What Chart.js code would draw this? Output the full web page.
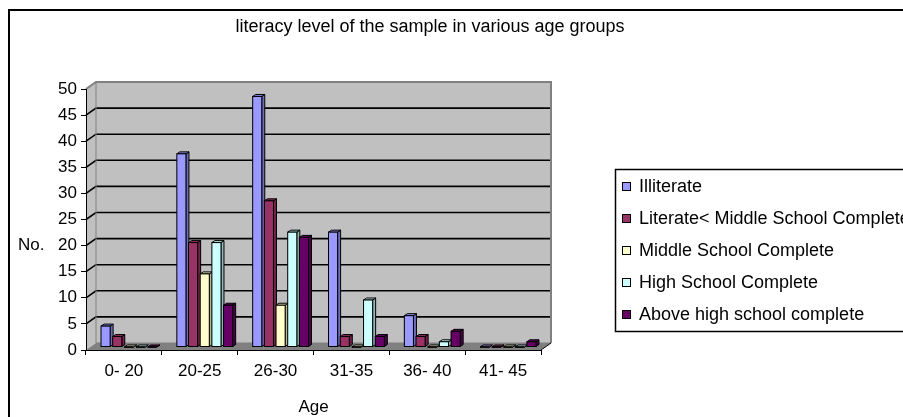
<!DOCTYPE html>
<html>
<head>
<meta charset="utf-8">
<title>literacy level of the sample in various age groups</title>
<script src="https://cdn.jsdelivr.net/npm/chart.js@4.4.1/dist/chart.umd.min.js"></script>
<style>
  html, body { margin: 0; padding: 0; background: #fff; }
  #wrap { width: 903px; height: 417px; position: relative; }
</style>
</head>
<body>
<div id="wrap"><canvas id="c" width="903" height="417"></canvas></div>
<script>
// ---- data ----
const ageGroups = ['0- 20', '20-25', '26-30', '31-35', '36- 40', '41- 45'];
const illiterate = [4, 37, 48, 22, 6, 0];
const literateBelowMiddle = [2, 20, 28, 2, 2, 0];
const middleSchoolComplete = [0, 14, 8, 0, 0, 0];
const highSchoolComplete = [0, 20, 22, 9, 1, 0];
const aboveHighSchool = [0, 8, 21, 2, 3, 1];
const seriesNames = [
  'Illiterate',
  'Literate< Middle School Complete',
  'Middle School Complete',
  'High School Complete',
  'Above high school complete'
];
const yMin = 0, yMax = 50, yStep = 5;
const chartTitle = 'literacy level of the sample in various age groups';
const yTitle = 'No.';
const xTitle = 'Age';

// ---- styling ----
const seriesColors = ['#9999FF', '#993366', '#FFFFCC', '#CCFFFF', '#660066'];
const FONT = 'Liberation Sans, Arial, sans-serif';
const WALL = { dx: 10, dy: -7 };      // depth of the walls/floor
const BAR_SHIFT = { dx: 5, dy: -3 };  // bars stand half way into the floor
const BAR_DEPTH = { dx: 3, dy: -2 };  // depth of each column

function shade(hex, f) {
  const n = parseInt(hex.slice(1), 16);
  const r = Math.round(((n >> 16) & 255) * f);
  const g = Math.round(((n >> 8) & 255) * f);
  const b = Math.round((n & 255) * f);
  return `rgb(${Math.min(255, r)},${Math.min(255, g)},${Math.min(255, b)})`;
}

// Walls, floor, gridlines, outer frame
const wallsPlugin = {
  id: 'walls',
  beforeDraw(chart) {
    const { ctx, chartArea: a, scales: { y } } = chart;
    const { dx, dy } = WALL;
    ctx.save();
    ctx.fillStyle = '#fff';
    ctx.fillRect(0, 0, chart.width, chart.height);

    // side wall
    ctx.fillStyle = '#c0c0c0';
    ctx.beginPath();
    ctx.moveTo(a.left, a.bottom);
    ctx.lineTo(a.left, a.top);
    ctx.lineTo(a.left + dx, a.top + dy);
    ctx.lineTo(a.left + dx, a.bottom + dy);
    ctx.closePath();
    ctx.fill();
    // back wall
    ctx.fillRect(a.left + dx, a.top + dy, a.right - a.left, a.bottom - a.top);
    // floor
    ctx.fillStyle = '#808080';
    ctx.beginPath();
    ctx.moveTo(a.left, a.bottom);
    ctx.lineTo(a.right, a.bottom);
    ctx.lineTo(a.right + dx, a.bottom + dy);
    ctx.lineTo(a.left + dx, a.bottom + dy);
    ctx.closePath();
    ctx.fill();

    // gridlines across side and back wall
    ctx.strokeStyle = '#000';
    ctx.lineWidth = 1.6;
    y.ticks.forEach(t => {
      if (t.value <= yMin || t.value >= yMax) return;
      const py = y.getPixelForValue(t.value);
      ctx.beginPath();
      ctx.moveTo(a.left, py);
      ctx.lineTo(a.left + dx, py + dy);
      ctx.lineTo(a.right + dx, py + dy);
      ctx.stroke();
    });

    // wall edges
    ctx.strokeStyle = '#808080';
    ctx.lineWidth = 2;
    ctx.beginPath();
    ctx.moveTo(a.left, a.top);
    ctx.lineTo(a.left + dx, a.top + dy);
    ctx.lineTo(a.right + dx, a.top + dy);
    ctx.lineTo(a.right + dx, a.bottom + dy);
    ctx.stroke();
    ctx.lineWidth = 1;
    ctx.beginPath();
    ctx.moveTo(a.left + dx, a.top + dy);
    ctx.lineTo(a.left + dx, a.bottom + dy);
    ctx.lineTo(a.right + dx, a.bottom + dy);
    ctx.stroke();
    // right edge of floor
    ctx.strokeStyle = '#000';
    ctx.lineWidth = 1;
    ctx.beginPath();
    ctx.moveTo(a.right, a.bottom);
    ctx.lineTo(a.right + dx, a.bottom + dy);
    ctx.stroke();

    // outer frame
    ctx.strokeStyle = '#000';
    ctx.lineWidth = 2;
    ctx.strokeRect(9, 10, chart.width + 40, chart.height + 40);
    ctx.restore();
  }
};

// Columns get a top and a side face
const columnsPlugin = {
  id: 'columns3d',
  beforeDatasetsDraw(chart) {
    chart.ctx.save();
    chart.ctx.translate(BAR_SHIFT.dx, BAR_SHIFT.dy);
  },
  afterDatasetsDraw(chart) {
    const ctx = chart.ctx;
    const { dx, dy } = BAR_DEPTH;
    const n = chart.data.labels.length;
    for (let k = 0; k < n; k++) {
      chart.data.datasets.forEach((ds, i) => {
        const el = chart.getDatasetMeta(i).data[k];
        if (!el) return;
        const { x, y, base, width } = el.getProps(['x', 'y', 'base', 'width'], true);
        const l = x - width / 2, r = x + width / 2;
        const col = ds.backgroundColor;
        ctx.lineWidth = 1;
        ctx.strokeStyle = '#000';
        // side face
        ctx.fillStyle = shade(col, 0.72);
        ctx.beginPath();
        ctx.moveTo(r, y);
        ctx.lineTo(r + dx, y + dy);
        ctx.lineTo(r + dx, base + dy);
        ctx.lineTo(r, base);
        ctx.closePath();
        ctx.fill();
        ctx.stroke();
        // top face
        ctx.fillStyle = shade(col, 0.9);
        ctx.beginPath();
        ctx.moveTo(l, y);
        ctx.lineTo(l + dx, y + dy);
        ctx.lineTo(r + dx, y + dy);
        ctx.lineTo(r, y);
        ctx.closePath();
        ctx.fill();
        ctx.stroke();
        // front face
        ctx.fillStyle = col;
        ctx.fillRect(l, y, r - l, base - y);
        ctx.strokeRect(l, y, r - l, base - y);
      });
    }
    ctx.restore();
  }
};

// Title, axis titles and the framed legend
const textPlugin = {
  id: 'texts',
  afterDraw(chart) {
    const { ctx, chartArea: a } = chart;
    ctx.save();
    ctx.fillStyle = '#000';
    ctx.textBaseline = 'middle';
    ctx.font = `18px ${FONT}`;
    ctx.textAlign = 'center';
    ctx.fillText(chartTitle, 430, 27);

    ctx.font = `17px ${FONT}`;
    ctx.textAlign = 'left';
    ctx.fillText(yTitle, 18, 245);
    ctx.textAlign = 'center';
    ctx.fillText(xTitle, (a.left + a.right) / 2, 407);

    // legend
    ctx.font = `18px ${FONT}`;
    ctx.strokeStyle = '#000';
    ctx.lineWidth = 1.5;
    ctx.strokeRect(615.5, 169.5, 400, 162);
    ctx.textAlign = 'left';
    chart.data.datasets.forEach((ds, i) => {
      const cy = 187 + i * 32;
      ctx.fillStyle = ds.backgroundColor;
      ctx.fillRect(622.5, cy - 4.5, 8, 8);
      ctx.lineWidth = 1;
      ctx.strokeRect(622.5, cy - 4.5, 8, 8);
      ctx.fillStyle = '#000';
      ctx.fillText(ds.label, 639, cy);
    });
    ctx.restore();
  }
};

const seriesValues = [illiterate, literateBelowMiddle, middleSchoolComplete, highSchoolComplete, aboveHighSchool];

new Chart(document.getElementById('c'), {
  type: 'bar',
  data: {
    labels: ageGroups,
    datasets: seriesValues.map((vals, i) => ({
      label: seriesNames[i],
      data: vals,
      backgroundColor: seriesColors[i],
      borderColor: '#000',
      borderWidth: 1,
      borderSkipped: false,
      categoryPercentage: 0.77,
      barPercentage: 0.78
    }))
  },
  options: {
    responsive: false,
    animation: false,
    events: [],
    layout: { padding: { left: 8, right: 362, top: 89, bottom: 0 } },
    plugins: {
      legend: { display: false },
      title: { display: false },
      tooltip: { enabled: false }
    },
    scales: {
      x: {
        grid: { display: true, drawOnChartArea: false, drawTicks: true, tickLength: 5, color: '#000', offset: true },
        border: { display: true, color: '#000', width: 1 },
        ticks: { color: '#000', font: { family: FONT, size: 17 }, padding: 6, maxRotation: 0, autoSkip: false },
        afterFit(s) { s.height = 67; }
      },
      y: {
        min: yMin,
        max: yMax,
        grid: { display: true, drawOnChartArea: false, drawTicks: true, tickLength: 5, color: '#000' },
        border: { display: true, color: '#000', width: 1 },
        ticks: { stepSize: yStep, color: '#000', font: { family: FONT, size: 17 }, padding: 4 },
        afterFit(s) { s.width = 78; }
      }
    }
  },
  plugins: [wallsPlugin, columnsPlugin, textPlugin]
});
</script>
</body>
</html>
